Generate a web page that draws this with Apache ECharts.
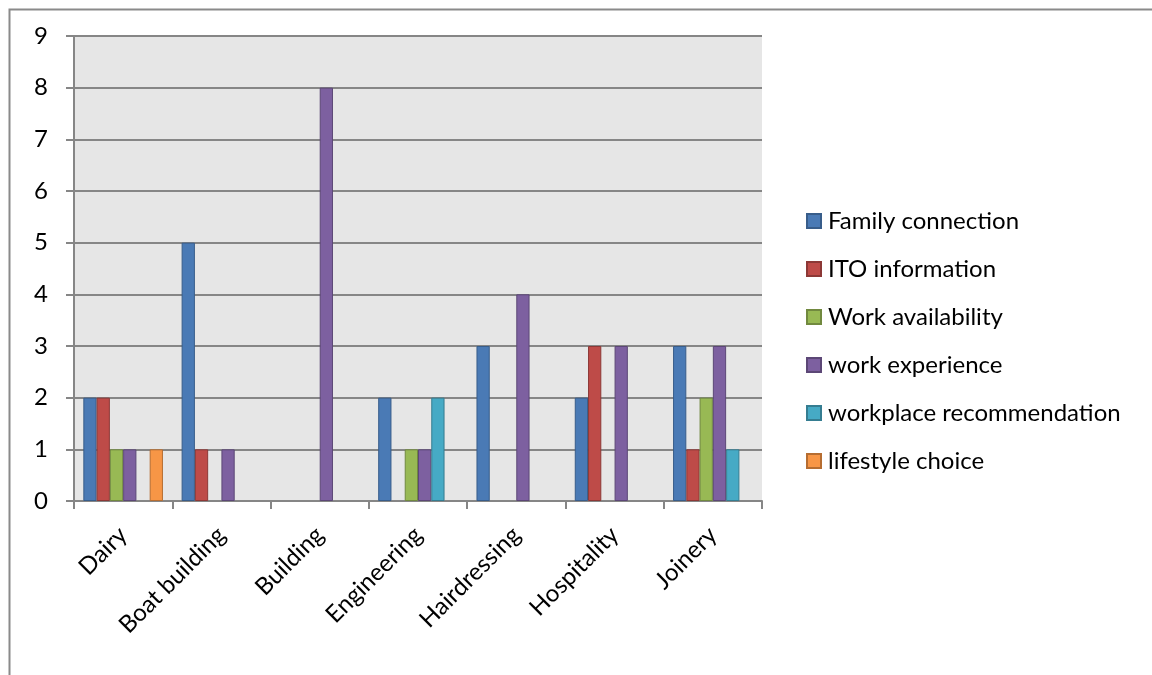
<!DOCTYPE html>
<html><head><meta charset="utf-8">
<script src="https://cdn.jsdelivr.net/npm/echarts@6/dist/echarts.min.js"></script>
<style>html,body{margin:0;padding:0;background:#fff}#c{width:1152px;height:675px}</style>
</head><body><div id="c"></div>
<script>
const categories = ['Dairy','Boat building','Building','Engineering','Hairdressing','Hospitality','Joinery'];
const seriesNames = ['Family connection','ITO information','Work availability','work experience','workplace recommendation','lifestyle choice'];
const familyConnection = [2,5,null,2,3,2,3];
const itoInformation = [2,1,null,null,null,3,1];
const workAvailability = [1,null,null,1,null,null,2];
const workExperience = [1,1,8,1,4,3,3];
const workplaceRecommendation = [null,null,null,2,null,null,1];
const lifestyleChoice = [1,null,null,null,null,null,null];
const yTicks = [0,1,2,3,4,5,6,7,8,9];

const fills = ['#4a7ab5','#be4b48','#98b954','#7d60a0','#46aac5','#f79646'];
const borders = ['#385d8a','#8c3836','#71893f','#5c4776','#357d91','#b66d31'];
const values = [familyConnection,itoInformation,workAvailability,workExperience,workplaceRecommendation,lifestyleChoice];
const FONT = 'Lato';

const chart = echarts.init(document.getElementById('c'));
chart.setOption({
  animation:false,
  backgroundColor:'#fff',
  graphic:[{type:'rect',left:7,top:7,shape:{width:1300,height:800},style:{fill:'none',stroke:'#8a8a8a',lineWidth:2},silent:true,z:-1}],
  grid:{left:74,right:390,top:36,bottom:174,show:true,backgroundColor:'#e6e6e6',borderWidth:0},
  legend:{orient:'vertical',left:801,top:204,itemWidth:14,itemHeight:14,itemGap:24,icon:'rect',
    textStyle:{fontFamily:FONT,fontSize:24,lineHeight:24,color:'#000',padding:[0,0,0,2]},data:seriesNames},
  xAxis:{type:'category',data:categories,
    axisLine:{lineStyle:{color:'#868686',width:2}},
    axisTick:{show:true,length:8,lineStyle:{color:'#868686',width:2}},
    axisLabel:{rotate:45,margin:30,fontFamily:FONT,fontSize:24,color:'#000',interval:0}},
  yAxis:{type:'value',min:0,max:9,interval:1,
    axisLine:{show:true,lineStyle:{color:'#868686',width:2}},
    axisTick:{show:true,length:8,lineStyle:{color:'#868686',width:2}},
    splitLine:{lineStyle:{color:'#868686',width:2}},
    axisLabel:{margin:26,fontFamily:FONT,fontSize:24,color:'#000',
      formatter:v=>yTicks.includes(v)?String(v):''}},
  series:seriesNames.map((n,i)=>({name:n,type:'bar',data:values[i],barGap:'0%',barCategoryGap:'19%',
    itemStyle:{color:fills[i],borderColor:borders[i],borderWidth:1}}))
});
</script></body></html>
